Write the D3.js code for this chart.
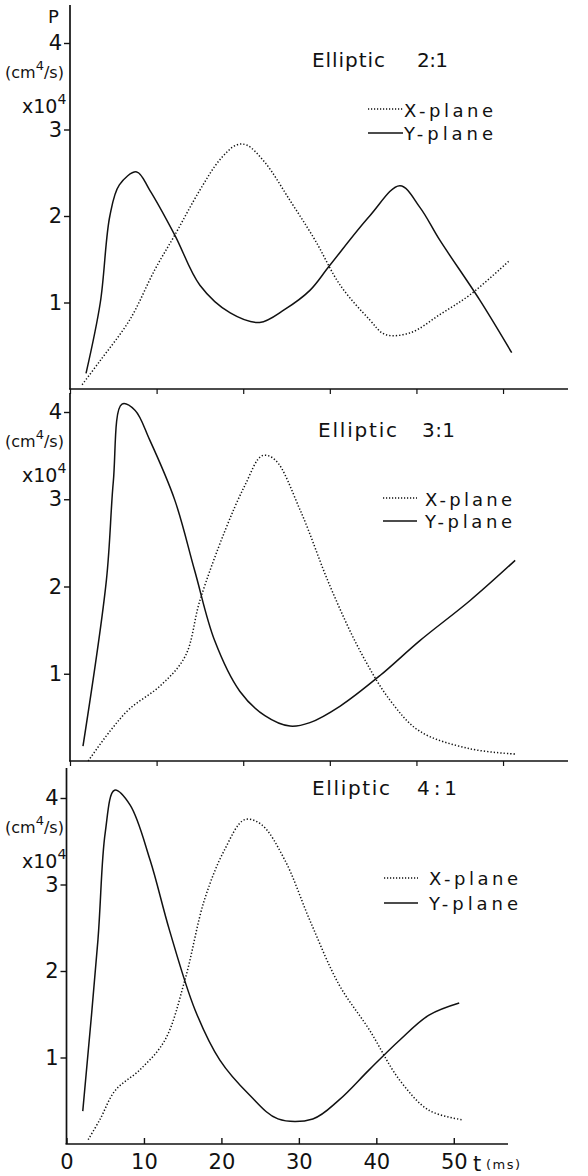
<!DOCTYPE html>
<html><head><meta charset="utf-8">
<script src="https://cdn.jsdelivr.net/npm/d3@7"></script>
<style>body{margin:0;background:#fff}svg{display:block}text{font-family:"DejaVu Sans",sans-serif;fill:#111}</style>
</head><body><svg id="c" width="588" height="1176"></svg>
<script>
// ---- data (t in ms, P in 10^4 cm^4/s) ----
const yTicks = [1, 2, 3, 4];
const xTicks = [0, 10, 20, 30, 40, 50];
const titleWords = ["Elliptic", "Elliptic", "Elliptic"];
const ratios = ["2 : 1", "3:1", "4 : 1"];
const seriesNames = ["X-plane", "Y-plane"];

const x21T = [1.4, 3.5, 6.9, 9.8, 12.1, 15, 17.3, 19.2, 20.4, 22.5, 25.4, 28.3, 31.2, 34.6, 36.4, 39.3, 42.7, 46.2, 50.8];
const x21P = [0.05, 0.33, 0.8, 1.38, 1.78, 2.3, 2.65, 2.82, 2.82, 2.62, 2.18, 1.72, 1.2, 0.8, 0.63, 0.65, 0.86, 1.09, 1.49];
const y21T = [1.85, 3.5, 4.6, 5.7, 7.7, 9.2, 12.1, 15, 18.5, 21.9, 24.8, 27.7, 30, 34.6, 38.1, 40.4, 42.7, 47.3, 51];
const y21P = [0.18, 1.0, 2.0, 2.36, 2.51, 2.3, 1.78, 1.2, 0.88, 0.77, 0.92, 1.14, 1.43, 2.0, 2.35, 2.1, 1.72, 1.03, 0.42];

const x31T = [2.1, 4.6, 6.9, 10.4, 13.3, 15, 17.9, 20.2, 22.2, 23.7, 26.6, 30, 33.5, 37, 40.4, 46.2, 51.4];
const x31P = [0.0, 0.34, 0.6, 0.86, 1.2, 1.84, 2.64, 3.16, 3.5, 3.45, 2.87, 2.01, 1.26, 0.69, 0.34, 0.14, 0.08];
const y31T = [1.5, 4.2, 5.0, 6.0, 7.5, 9.2, 12.1, 14.4, 16.7, 19.6, 22.5, 25.4, 27.7, 31.2, 35.8, 40.4, 46.2, 51.4];
const y31P = [0.17, 2.07, 3.2, 4.09, 4.02, 3.68, 2.99, 2.18, 1.38, 0.8, 0.52, 0.4, 0.44, 0.63, 0.98, 1.38, 1.84, 2.3];

const x41T = [2.8, 4.3, 6.3, 9.5, 12.7, 15.3, 17.8, 20.4, 23, 25.2, 28.2, 31.4, 35.2, 39.1, 43, 46.8, 51.1];
const x41P = [0.05, 0.28, 0.62, 0.86, 1.2, 1.9, 2.82, 3.4, 3.75, 3.69, 3.28, 2.59, 1.84, 1.32, 0.74, 0.39, 0.28];
const y41T = [2.1, 4.06, 5.0, 6.2, 8.2, 10.8, 13.3, 16.6, 19.8, 23.6, 27.3, 31.8, 35.2, 39.1, 43, 46.8, 50.7];
const y41P = [0.38, 2.36, 3.6, 4.09, 3.92, 3.28, 2.47, 1.55, 0.97, 0.57, 0.29, 0.29, 0.51, 0.86, 1.2, 1.49, 1.63];

const panels = [
  {x: [x21T, x21P], y: [y21T, y21P], xDom: [0, 57.5], xR: [70, 568], yR: [389, 43], axTop: 5,
   title: {x: 312, w: 73, rx: 417, rw: 31, y: 67},
   leg: {lx: 368, lw: 35, tx: 404, tw: 89, y1: 117, l1: 109, y2: 140, l2: 133}, bottom: false},
  {x: [x31T, x31P], y: [y31T, y31P], xDom: [0, 57.5], xR: [70, 568], yR: [761, 412], axTop: 393,
   title: {x: 318, w: 79, rx: 422, rw: 33, y: 437},
   leg: {lx: 383, lw: 34, tx: 425, tw: 87, y1: 506, l1: 498, y2: 528, l2: 521}, bottom: false},
  {x: [x41T, x41P], y: [y41T, y41P], xDom: [0, 57], xR: [66.5, 508], yR: [1144, 798], axTop: 768,
   title: {x: 312, w: 78, rx: 417, rw: 40, y: 795},
   leg: {lx: 384, lw: 34, tx: 429, tw: 89, y1: 885, l1: 878, y2: 910, l2: 903}, bottom: true}
];

const svg = d3.select("#c");

panels.forEach((p, i) => {
  const x = d3.scaleLinear().domain(p.xDom).range(p.xR);
  const y = d3.scaleLinear().domain([0, 4]).range(p.yR);
  const g = svg.append("g");
  const x0 = x(0), y0 = y(0);

  g.append("line").attr("x1", x0).attr("x2", x0).attr("y1", p.axTop).attr("y2", y0)
    .attr("stroke", "#111").attr("stroke-width", 1.7);
  g.append("line").attr("x1", x0 - 1).attr("x2", p.xR[1]).attr("y1", y0).attr("y2", y0)
    .attr("stroke", "#111").attr("stroke-width", 1.7);

  const ya = d3.axisLeft(y).tickValues(yTicks).tickSize(6).tickPadding(2).tickFormat(d3.format("d"));
  const yg = g.append("g").attr("transform", `translate(${x0},0)`).call(ya);
  yg.select(".domain").remove();
  yg.selectAll("line").attr("stroke", "#111").attr("stroke-width", 1.4);
  yg.selectAll("text").attr("font-size", 21).attr("font-family", "DejaVu Sans, sans-serif").attr("fill", "#111");

  if (p.bottom) {
    const xa = d3.axisBottom(x).tickValues(xTicks).tickSizeInner(-6).tickSizeOuter(0).tickPadding(10).tickFormat(d3.format("d"));
    const xg = g.append("g").attr("transform", `translate(0,${y0})`).call(xa);
    xg.select(".domain").remove();
    xg.selectAll("line").attr("stroke", "#111").attr("stroke-width", 1.4);
    xg.selectAll("text").attr("font-size", 21).attr("font-family", "DejaVu Sans, sans-serif").attr("fill", "#111");
    g.append("text").attr("x", 473).attr("y", 1171).attr("font-size", 21).text("t");
    g.append("text").attr("x", 486).attr("y", 1169).attr("font-size", 13)
      .attr("textLength", 34).attr("lengthAdjust", "spacing").text("(ms)");
  } else {
    const xa = d3.axisBottom(x).tickValues(xTicks).tickSizeInner(5).tickSizeOuter(0).tickFormat("");
    const xg = g.append("g").attr("transform", `translate(0,${y0})`).call(xa);
    xg.select(".domain").remove();
    xg.selectAll("line").attr("stroke", "#111").attr("stroke-width", 1.2);
  }

  if (i === 0) g.append("text").attr("x", 48).attr("y", 23).attr("font-size", 18).text("P");
  const uy = y(4);
  const unit = g.append("text").attr("x", 5).attr("y", uy + 35).attr("font-size", 16);
  unit.append("tspan").text("(cm");
  unit.append("tspan").attr("dy", -8).attr("font-size", 13).text("4");
  unit.append("tspan").attr("dy", 8).text("/s)");
  const xp = g.append("text").attr("x", 22).attr("y", uy + 70).attr("font-size", 19);
  xp.append("tspan").text("x10");
  xp.append("tspan").attr("dy", -9).attr("font-size", 14).text("4");

  const t = p.title;
  g.append("text").attr("x", t.x).attr("y", t.y).attr("font-size", 20)
    .attr("textLength", t.w).attr("lengthAdjust", "spacing").text(titleWords[i]);
  g.append("text").attr("x", t.rx).attr("y", t.y).attr("font-size", 20)
    .attr("textLength", t.rw).attr("lengthAdjust", "spacing").text(ratios[i]);

  const L = p.leg;
  g.append("line").attr("x1", L.lx).attr("x2", L.lx + L.lw).attr("y1", L.l1).attr("y2", L.l1)
    .attr("stroke", "#111").attr("stroke-width", 1.3).attr("stroke-dasharray", "1.2,1.8");
  g.append("line").attr("x1", L.lx).attr("x2", L.lx + L.lw).attr("y1", L.l2).attr("y2", L.l2)
    .attr("stroke", "#111").attr("stroke-width", 1.5);
  g.append("text").attr("x", L.tx).attr("y", L.y1).attr("font-size", 18)
    .attr("textLength", L.tw).attr("lengthAdjust", "spacing").text(seriesNames[0]);
  g.append("text").attr("x", L.tx).attr("y", L.y2).attr("font-size", 18)
    .attr("textLength", L.tw).attr("lengthAdjust", "spacing").text(seriesNames[1]);

  const line = d3.line().x(d => x(d[0])).y(d => y(d[1])).curve(d3.curveCatmullRom.alpha(0.5));
  const xd = d3.zip(p.x[0], p.x[1]);
  const yd = d3.zip(p.y[0], p.y[1]);
  g.append("path").attr("d", line(xd)).attr("fill", "none").attr("stroke", "#111")
    .attr("stroke-width", 1.5).attr("stroke-dasharray", "1.3,2");
  g.append("path").attr("d", line(yd)).attr("fill", "none").attr("stroke", "#111")
    .attr("stroke-width", 1.5);
});
</script></body></html>
